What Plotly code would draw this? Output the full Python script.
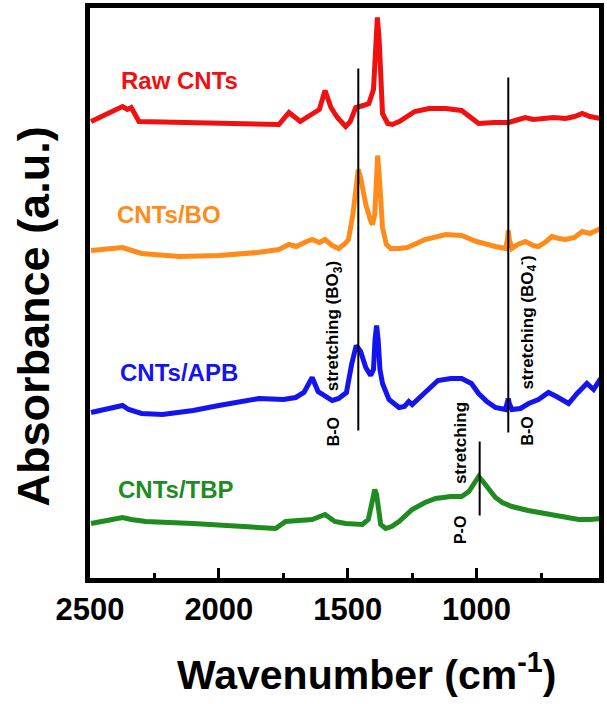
import plotly.graph_objects as go

# ---- data (wavenumber cm-1, absorbance a.u. with vertical offsets) ----
raw_wn = [2496, 2374, 2355, 2340, 2310, 2100, 1900, 1767, 1728, 1700, 1684, 1660, 1638, 1610, 1588,
          1565, 1540, 1508, 1490, 1469, 1440, 1418, 1400, 1392, 1385, 1378, 1370, 1365, 1345, 1327,
          1300, 1269, 1240, 1185, 1120, 1058, 1020, 992, 930, 875, 850, 811, 780, 742, 700, 655, 620,
          590, 560, 520]
raw_ab = [460, 475, 472, 474, 460, 459, 458, 457, 469, 464, 460, 464, 468, 472, 491,
          474, 464, 455, 460, 474, 476, 478, 492, 542, 564, 542, 487, 468, 458, 457,
          460, 465, 470, 473, 473, 471, 464, 458, 459, 459, 461, 464, 462, 463, 464, 463, 465,
          468, 465, 463]

bo_wn = [2496, 2374, 2350, 2300, 2154, 2000, 1850, 1767, 1728, 1700, 1660, 1638, 1610, 1588, 1560,
         1535, 1510, 1497, 1480, 1465, 1459, 1450, 1430, 1410, 1404, 1395, 1390, 1384, 1378, 1370,
         1365, 1350, 1333, 1300, 1269, 1200, 1120, 1058, 1000, 927, 888, 880, 877, 873, 863, 840,
         811, 780, 760, 730, 708, 680, 655, 620, 590, 560, 530, 519]
bo_ab = [331, 334, 332, 328, 325, 326, 329, 332, 337, 335, 340, 342, 339, 342, 336,
         333, 338, 342, 367, 407, 412, 404, 377, 360, 357, 367, 407, 426, 407, 367,
         354, 337, 333, 333, 334, 342, 347, 346, 340, 335, 333, 342, 351, 342, 333, 337,
         340, 336, 335, 340, 345, 343, 342, 344, 350, 348, 351, 353]

apb_wn = [2496, 2374, 2350, 2300, 2219, 2100, 2000, 1844, 1750, 1702, 1670, 1638, 1615, 1590, 1560,
          1535, 1505, 1485, 1467, 1450, 1430, 1411, 1400, 1394, 1388, 1382, 1375, 1365, 1340, 1301,
          1280, 1263, 1250, 1200, 1150, 1100, 1058, 1020, 992, 960, 927, 888, 880, 877, 873, 863,
          830, 798, 760, 721, 690, 643, 610, 572, 546, 519]
apb_ab = [169, 176, 172, 168, 167, 171, 176, 183, 182, 184, 189, 204, 190, 186, 181,
          183, 189, 217, 236, 230, 214, 206, 212, 242, 256, 242, 212, 198, 182, 174,
          175, 180, 177, 189, 201, 203, 203, 198, 188, 180, 174, 172, 179, 183, 178, 172,
          173, 178, 182, 189, 185, 178, 188, 198, 192, 203]

tbp_wn = [2496, 2374, 2340, 2284, 2100, 1900, 1780, 1741, 1700, 1638, 1588, 1550, 1508, 1443, 1420,
          1405, 1395, 1388, 1380, 1372, 1353, 1330, 1301, 1250, 1200, 1159, 1100, 1058, 1030, 1010,
          992, 975, 950, 927, 900, 863, 800, 734, 670, 604, 560, 519]
tbp_ab = [58, 64, 62, 60, 58, 55, 53, 60, 61, 62, 67, 60, 58, 57, 62,
          82, 92, 87, 67, 57, 53, 55, 60, 72, 79, 83, 85, 85, 90, 99,
          105, 100, 91, 84, 79, 75, 71, 68, 65, 62, 62, 63]

series_names = ["Raw CNTs", "CNTs/BO", "CNTs/APB", "CNTs/TBP"]
series_colors = ["#f01010", "#ff8c1a", "#1414f0", "#1e8c1e"]
label_wn = [2388, 2404, 2393, 2398]
label_ab = [501, 367, 209, 92]

# assignment marker lines: wavenumber, bottom, top (a.u.)
mark_wn = [1459, 877, 988]
mark_y0 = [151, 149, 66]
mark_y1 = [513, 504, 140]

tick_vals = [2500, 2000, 1500, 1000]
tick_text = ["2500", "2000", "1500", "1000"]
minor_vals = [2250, 1750, 1250, 750]

FONT = "Liberation Sans, Arial, sans-serif"

fig = go.Figure()
for wn, ab, name, col in zip([raw_wn, bo_wn, apb_wn, tbp_wn], [raw_ab, bo_ab, apb_ab, tbp_ab],
                             series_names, series_colors):
    fig.add_trace(go.Scatter(x=wn, y=ab, mode="lines", name=name,
                             line=dict(color=col, width=5), showlegend=False))

for xw, a, b in zip(mark_wn, mark_y0, mark_y1):
    fig.add_shape(type="line", xref="x", yref="y", x0=xw, x1=xw, y0=a, y1=b,
                  line=dict(color="black", width=2))

annotations = []
for name, col, xw, yv in zip(series_names, series_colors, label_wn, label_ab):
    annotations.append(dict(x=xw, y=yv, xref="x", yref="y", text=name, showarrow=False,
                            xanchor="left", yanchor="middle",
                            font=dict(family=FONT, size=24, color=col, weight="bold")))

rot = [
    ("B-O", 1554, 150, 16),
    ("stretching (BO<sub>3</sub>)", 1554, 255, 17),
    ("B-O", 804, 150, 16),
    ("stretching (BO<sub>4</sub><sup>-</sup>)", 804, 259, 17),
    ("P-O", 1062, 51, 16),
    ("stretching", 1062, 138, 17),
]
for t, xw, yv, fs in rot:
    annotations.append(dict(x=xw, y=yv, xref="x", yref="y", text=t, showarrow=False,
                            textangle=-90, xanchor="center", yanchor="middle",
                            font=dict(family=FONT, size=fs, color="black", weight="bold")))

annotations.append(dict(x=-0.111, y=0.458, xref="paper", yref="paper",
                        text="Absorbance (a.u.)", showarrow=False, textangle=-90,
                        xanchor="center", yanchor="middle",
                        font=dict(family=FONT, size=45, color="black", weight="bold")))
annotations.append(dict(x=0.543, y=-0.165, xref="paper", yref="paper",
                        text="Wavenumber (cm<sup>-1</sup>)", showarrow=False,
                        xanchor="center", yanchor="middle",
                        font=dict(family=FONT, size=41, color="black", weight="bold")))

fig.update_layout(
    width=607, height=704,
    margin=dict(l=90, r=3, t=8, b=126),
    plot_bgcolor="white", paper_bgcolor="white",
    annotations=annotations,
    xaxis=dict(range=[2500, 525], showgrid=False, zeroline=False,
               showline=True, linecolor="black", linewidth=4.5, mirror=True,
               tickmode="array", tickvals=tick_vals, ticktext=tick_text,
               ticks="inside", ticklen=10, tickwidth=3, tickcolor="black",
               minor=dict(tickvals=minor_vals, ticks="inside", ticklen=5,
                          tickwidth=3, tickcolor="black"),
               tickfont=dict(family=FONT, size=31, color="black", weight="bold")),
    yaxis=dict(range=[3.5, 573.5], showgrid=False, zeroline=False,
               showline=True, linecolor="black", linewidth=4.5, mirror=True,
               showticklabels=False, ticks=""),
)

fig.write_html("out.html", config={"displayModeBar": False},
               post_script="document.body.style.margin='0';document.body.style.overflow='hidden';")
